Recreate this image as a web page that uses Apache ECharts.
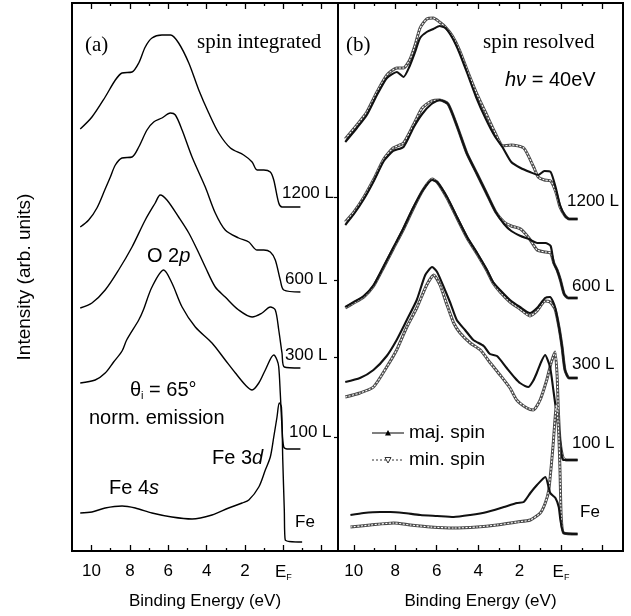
<!DOCTYPE html>
<html>
<head>
<meta charset="utf-8">
<title>Spin integrated / spin resolved photoemission</title>
<script src="https://cdn.jsdelivr.net/npm/echarts@6/dist/echarts.min.js"></script>
<style>
  html, body { margin: 0; padding: 0; background: #fff; }
  #chart { width: 631px; height: 616px; }
</style>
</head>
<body>
<div id="chart"></div>
<script>
// [binding energy (eV), intensity (arb. units, offset stacked)]

// (a) spin integrated
const a1200 = [[10.59,422],[9.98,434],[9.29,454],[8.76,471],[8.41,478],[7.89,479],[7.54,488],[7.20,504],[6.85,513],[6.33,516],[5.88,516],[5.46,508],[4.93,488],[4.41,461],[3.89,438],[3.37,418],[2.76,403],[2.07,396],[1.63,389],[1.37,381],[1.02,381],[0.68,379],[0.50,371],[0.24,348],[0.07,344],[-0.89,344]]
const a600 = [[10.59,324],[10.15,331],[9.72,343],[9.29,362],[9.02,374],[8.76,386],[8.41,393],[7.89,394],[7.54,404],[7.11,421],[6.76,429],[6.33,433],[5.89,438],[5.63,436],[5.28,421],[4.76,394],[4.07,364],[3.55,338],[3.03,321],[2.33,313],[1.80,309],[1.37,301],[1.02,301],[0.68,299],[0.42,291],[0.16,271],[-0.02,261],[-0.89,259]]
const a300 = [[10.59,243],[9.98,248],[9.29,261],[8.59,281],[7.89,304],[7.20,331],[6.68,348],[6.42,356],[6.07,351],[5.46,334],[4.93,318],[4.41,298],[4.07,284],[3.55,264],[3.03,254],[2.33,241],[1.63,234],[1.11,238],[0.68,244],[0.42,241],[0.24,221],[0.07,198],[-0.05,184],[-0.89,183]]
const a100 = [[10.59,168],[9.81,171],[9.29,178],[8.85,189],[8.41,200],[8.17,211],[7.54,231],[7.30,241],[6.85,264],[6.24,281],[5.81,268],[5.28,244],[4.59,224],[3.72,208],[3.03,191],[2.50,178],[1.98,166],[1.63,161],[1.28,168],[0.94,181],[0.50,196],[0.33,191],[0.24,184],[0.16,158],[0.07,124],[-0.02,104],[-0.19,102],[-0.89,102]]
const aFe = [[10.59,38],[9.98,39],[9.29,43],[8.41,45],[7.72,43],[6.85,38],[5.81,34],[4.76,32],[3.72,36],[2.85,43],[2.15,48],[1.80,51],[1.28,64],[0.94,81],[0.68,94],[0.50,114],[0.33,134],[0.21,148],[0.10,144],[0.03,91],[-0.05,41],[-0.10,11],[-0.98,9]]

// (b) spin resolved, majority / minority
const b1200maj = [[10.41,409],[9.85,423],[9.37,436],[8.88,456],[8.40,473],[7.92,479],[7.60,474],[7.30,485],[7.04,499],[6.80,513],[6.48,519],[6.16,522],[5.86,525],[5.58,523],[5.24,513],[4.90,498],[4.53,478],[4.10,454],[3.65,433],[3.20,415],[2.80,403],[2.40,389],[1.95,383],[1.50,379],[1.10,376],[0.80,380],[0.50,379],[0.25,363],[0.05,346],[-0.20,335],[-0.40,332],[-0.80,332]]
const b1200min = [[10.41,412],[9.85,426],[9.37,439],[8.88,459],[8.40,476],[7.92,483],[7.60,483],[7.30,491],[7.04,506],[6.80,523],[6.48,532],[6.16,533],[5.86,529],[5.58,524],[5.24,515],[4.90,501],[4.53,481],[4.10,459],[3.65,439],[3.20,419],[2.80,405],[2.40,406],[1.80,403],[1.32,384],[1.10,374],[0.80,371],[0.50,370],[0.25,359],[0.05,344],[-0.20,335],[-0.40,332],[-0.80,332]]
const b600maj = [[10.41,326],[9.99,337],[9.51,352],[9.03,370],[8.55,390],[8.10,400],[7.60,404],[7.10,424],[6.70,437],[6.25,447],[5.85,451],[5.45,447],[5.00,424],[4.55,398],[4.05,377],[3.60,358],[3.15,339],[2.75,327],[2.40,320],[1.95,315],[1.55,312],[1.15,308],[0.75,308],[0.50,305],[0.35,288],[0.19,281],[0.03,271],[-0.15,257],[-0.35,253],[-0.80,253]]
const b600min = [[10.41,329],[9.99,339],[9.51,354],[9.03,372],[8.55,392],[8.10,403],[7.60,408],[7.10,427],[6.70,443],[6.25,450],[5.85,451],[5.45,447],[5.00,424],[4.55,398],[4.05,377],[3.60,358],[3.15,339],[2.75,329],[2.40,325],[1.95,322],[1.55,313],[1.15,301],[0.75,299],[0.50,298],[0.35,288],[0.19,281],[0.03,271],[-0.15,257],[-0.35,253],[-0.80,253]]
const b300maj = [[10.41,244],[10.00,249],[9.52,255],[9.04,266],[8.55,285],[8.10,303],[7.62,322],[7.14,343],[6.66,361],[6.22,371],[5.98,369],[5.50,354],[5.02,334],[4.53,314],[4.05,298],[3.57,281],[3.28,269],[2.94,261],[2.46,251],[1.98,244],[1.50,238],[1.16,243],[0.77,253],[0.53,254],[0.29,244],[0.10,224],[-0.05,204],[-0.19,181],[-0.39,173],[-0.80,173]]
const b300min = [[10.41,243],[10.00,248],[9.52,254],[9.04,265],[8.55,284],[8.10,302],[7.62,321],[7.14,342],[6.66,361],[6.22,372],[5.98,369],[5.50,353],[5.02,333],[4.53,313],[4.05,297],[3.57,280],[3.28,268],[2.94,259],[2.46,249],[1.98,242],[1.50,235],[1.16,240],[0.77,250],[0.53,249],[0.29,242],[0.10,224],[-0.05,204],[-0.19,181],[-0.39,173],[-0.80,173]]
const b100maj = [[10.41,169],[9.70,173],[9.05,181],[8.41,195],[7.93,211],[7.44,231],[6.96,251],[6.55,276],[6.22,284],[5.98,279],[5.66,264],[5.34,248],[5.03,231],[4.63,221],[4.23,211],[3.73,205],[3.43,197],[3.09,195],[2.62,183],[2.22,173],[1.98,168],[1.58,164],[1.35,170],[1.17,178],[0.96,189],[0.77,196],[0.53,184],[0.37,161],[0.24,141],[0.13,126],[-0.03,96],[-0.11,91],[-0.80,91]]
const b100min = [[10.41,154],[9.70,158],[9.05,164],[8.41,184],[7.93,201],[7.44,224],[6.96,243],[6.48,266],[6.14,276],[5.84,266],[5.50,246],[5.18,228],[4.87,218],[4.38,208],[3.89,201],[3.41,188],[2.94,176],[2.46,163],[2.14,151],[1.65,143],[1.34,141],[1.01,151],[0.69,171],[0.48,188],[0.29,199],[0.19,176],[0.13,141],[0.05,111],[-0.10,93],[-0.29,91],[-0.80,91]]
const bFeMaj = [[10.16,36],[9.52,38],[8.72,39],[8.23,39],[7.59,38],[6.79,36],[5.98,35],[5.18,34],[4.38,36],[3.57,39],[2.76,44],[2.12,48],[1.80,49],[1.48,58],[1.16,66],[0.76,74],[0.52,58],[0.27,53],[0.11,44],[0.03,31],[-0.13,18],[-0.80,17]]
const bFeMin = [[10.16,24],[9.20,26],[8.07,28],[7.27,26],[6.30,24],[5.18,23],[4.05,24],[3.09,26],[2.12,29],[1.48,31],[1.00,38],[0.76,48],[0.59,61],[0.39,104],[0.22,146],[0.12,121],[0.05,81],[-0.01,34],[-0.13,18],[-0.80,17]]

// tick marks / labels on the energy axis
const majorTicks = [-2, 0, 2, 4, 6, 8, 10]
const minorTicks = [-1, 1, 3, 5, 7, 9]
const tickLabels = [0, 2, 4, 6, 8, 10]
// small intensity ticks left of panel (b)
const intensityTicks = [114, 194, 271, 354]

const SANS = '"Liberation Sans", Arial, sans-serif'
const SERIF = '"Liberation Serif", "Times New Roman", serif'

const chart = echarts.init(document.getElementById('chart'))

function energyAxis(gridIndex, range, position, ticks, len, withLabels) {
  return {
    gridIndex: gridIndex,
    type: 'value',
    inverse: true,
    position: position,
    min: range[0],
    max: range[1],
    axisLine: { show: false, onZero: false },
    splitLine: { show: false },
    axisTick: {
      show: true,
      inside: true,
      length: len,
      customValues: ticks,
      lineStyle: { color: '#000', width: 1.3 },
    },
    axisLabel: withLabels
      ? {
          show: true,
          customValues: tickLabels,
          margin: 12,
          color: '#000',
          fontFamily: SANS,
          fontSize: 17,
          formatter: (v) => (v === 0 ? '{e|E}{f|F}' : String(v)),
          rich: {
            e: { fontSize: 17, fontFamily: SANS, color: '#000' },
            f: { fontSize: 9, fontFamily: SANS, color: '#000', padding: [10, 0, 0, 0] },
          },
        }
      : { show: false },
    name: withLabels ? 'Binding Energy (eV)' : '',
    nameLocation: 'middle',
    nameGap: 42,
    nameTextStyle: { fontFamily: SANS, fontSize: 17, color: '#000' },
  }
}

const rangeA = [-2.85, 11.02]
const rangeB = [-2.99, 10.76]

const xAxes = []
;[[0, rangeA], [1, rangeB]].forEach(([g, r]) => {
  xAxes.push(energyAxis(g, r, 'bottom', majorTicks, 6, true))
  xAxes.push(energyAxis(g, r, 'bottom', minorTicks, 3, false))
  xAxes.push(energyAxis(g, r, 'top', majorTicks, 6, false))
  xAxes.push(energyAxis(g, r, 'top', minorTicks, 3, false))
})

const yAxes = [0, 1].map((g) => ({
  gridIndex: g,
  type: 'value',
  min: 0,
  max: 548,
  axisLine: { show: false, onZero: false },
  axisTick: g === 1
    ? { show: true, inside: false, length: 4, customValues: intensityTicks, lineStyle: { color: '#000', width: 1.2 } }
    : { show: false },
  axisLabel: { show: false },
  splitLine: { show: false },
  name: g === 0 ? 'Intensity (arb. units)' : '',
  nameLocation: 'middle',
  nameGap: 38,
  nameRotate: 90,
  nameTextStyle: { fontFamily: SANS, fontSize: 19, color: '#000' },
}))

const series = []

function plain(data, xi, yi) {
  series.push({
    type: 'line', data: data, xAxisIndex: xi, yAxisIndex: yi,
    showSymbol: false, smooth: 0.3, silent: true,
    lineStyle: { color: '#000', width: 1.4 },
  })
}

function minority(data) {
  // open triangles on a dotted line: drawn as a speckled hollow band
  series.push({
    type: 'line', data: data, xAxisIndex: 4, yAxisIndex: 1,
    showSymbol: false, smooth: 0.2, silent: true,
    lineStyle: { color: '#4a4a4a', width: 3 },
  })
  series.push({
    type: 'line', data: data, xAxisIndex: 4, yAxisIndex: 1,
    showSymbol: false, smooth: 0.2, silent: true,
    lineStyle: { color: '#fff', width: 1.1, type: [2, 1.5] },
  })
}

function majority(data) {
  series.push({
    type: 'line', data: data, xAxisIndex: 4, yAxisIndex: 1,
    showSymbol: false, smooth: 0.2, silent: true,
    lineStyle: { color: '#111', width: 2.1 },
  })
}

;[a1200, a600, a300, a100, aFe].forEach((d) => plain(d, 0, 0))
;[[b1200min, b1200maj], [b600min, b600maj], [b300min, b300maj], [b100min, b100maj], [bFeMin, bFeMaj]].forEach(([mn, mj]) => {
  minority(mn)
  majority(mj)
})

function txt(x, y, text, font, extra) {
  return {
    type: 'text', x: x, y: y, silent: true,
    style: Object.assign({
      text: text, font: font, fill: '#000',
      textAlign: 'left', textVerticalAlign: 'middle',
      align: 'left', verticalAlign: 'middle',
    }, extra || {}),
  }
}

const label17 = '17px ' + SANS
const note20 = '20px ' + SANS
const serif21 = '21px ' + SERIF
const italicRich = {
  i: { fontFamily: SANS, fontSize: 20, fontStyle: 'italic' },
  n: { fontFamily: SANS, fontSize: 20 },
}

const graphics = [
  txt(85, 45, '(a)', serif21),
  txt(197, 42, 'spin integrated', serif21),
  txt(346, 45, '(b)', serif21),
  txt(483, 42, 'spin resolved', serif21),
  txt(505, 80, '{i|hν}{n| = 40eV}', note20, { rich: italicRich }),
  txt(147, 256, '{n|O 2}{i|p}', note20, { rich: italicRich }),
  txt(130, 390, '{n|θ}{s|i}{n| = 65°}', note20, {
    rich: {
      n: { fontFamily: SANS, fontSize: 20 },
      s: { fontFamily: SANS, fontSize: 11, padding: [12, 0, 0, 0] },
    },
  }),
  txt(89, 418, 'norm. emission', note20),
  txt(212, 458, '{n|Fe 3}{i|d}', note20, { rich: italicRich }),
  txt(109, 488, '{n|Fe 4}{i|s}', note20, { rich: italicRich }),
  // exposure labels, panel (a)
  txt(282, 193, '1200 L', label17),
  txt(285, 279, '600 L', label17),
  txt(285, 355, '300 L', label17),
  txt(289, 432, '100 L', label17),
  txt(295, 522, 'Fe', label17),
  // exposure labels, panel (b)
  txt(567, 201, '1200 L', label17),
  txt(572, 286, '600 L', label17),
  txt(572, 364, '300 L', label17),
  txt(572, 443, '100 L', label17),
  txt(580, 512, 'Fe', label17),
  // legend
  { type: 'line', silent: true, shape: { x1: 372, y1: 433, x2: 404, y2: 433 }, style: { stroke: '#000', lineWidth: 1 } },
  { type: 'polygon', silent: true, shape: { points: [[385, 435.5], [391, 435.5], [388, 430]] }, style: { fill: '#000' } },
  txt(409, 433, 'maj. spin', '19px ' + SANS),
  { type: 'line', silent: true, shape: { x1: 372, y1: 460, x2: 404, y2: 460 }, style: { stroke: '#333', lineWidth: 1, lineDash: [2, 2] } },
  { type: 'polygon', silent: true, shape: { points: [[385, 457.5], [391, 457.5], [388, 463]] }, style: { fill: '#fff', stroke: '#333', lineWidth: 1 } },
  txt(409, 460, 'min. spin', '19px ' + SANS),
]

chart.setOption({
  animation: false,
  backgroundColor: '#fff',
  grid: [
    { left: 72, top: 3, width: 266, height: 548, show: true, borderColor: '#000', borderWidth: 2 },
    { left: 338, top: 3, width: 285, height: 548, show: true, borderColor: '#000', borderWidth: 2 },
  ],
  xAxis: xAxes,
  yAxis: yAxes,
  series: series,
  graphic: graphics,
})
</script>
</body>
</html>
